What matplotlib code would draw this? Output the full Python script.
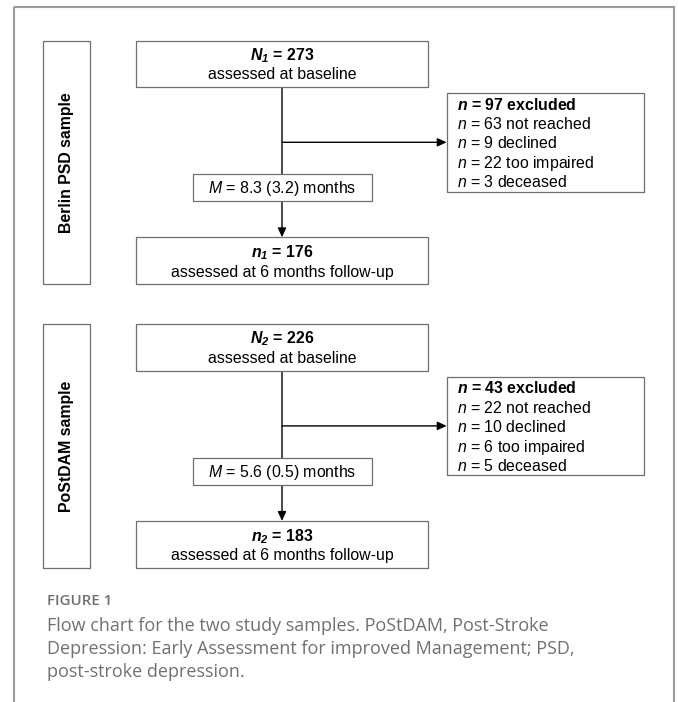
import matplotlib
matplotlib.use('Agg')
import matplotlib.pyplot as plt
from matplotlib.patches import Rectangle, FancyArrowPatch

# values
samples = ['Berlin PSD sample', 'PoStDAM sample']
baseline_n = [273, 226]
followup_n = [176, 183]
interval_mean = [8.3, 5.6]
interval_sd = [3.2, 0.5]
excl_total = [97, 43]
excl_reasons = ['not reached', 'declined', 'too impaired', 'deceased']
excl_counts = [[63, 9, 22, 3], [22, 10, 6, 5]]

caption_title = 'FIGURE 1'
caption_lines = ['Flow chart for the two study samples. PoStDAM, Post-Stroke',
                 'Depression: Early Assessment for improved Management; PSD,',
                 'post-stroke depression.']

plt.rcParams['font.family'] = ['Liberation Sans', 'DejaVu Sans']
plt.rcParams['mathtext.fontset'] = 'custom'
plt.rcParams['mathtext.rm'] = 'Liberation Sans'
plt.rcParams['mathtext.it'] = 'Liberation Sans:italic'
plt.rcParams['mathtext.bf'] = 'Liberation Sans:bold'
plt.rcParams['mathtext.bfit'] = 'Liberation Sans:italic:bold'

W, H = 678, 702
fig = plt.figure(figsize=(W / 100, H / 100), dpi=100)
ax = fig.add_axes([0, 0, 1, 1])
ax.set_xlim(0, W)
ax.set_ylim(H, 0)
ax.axis('off')

FS = 11.4
BOX_EC = '#6e6e6e'
BOX_LW = 0.9


def box(x0, y0, x1, y1, z=2):
    ax.add_patch(Rectangle((x0, y0), x1 - x0, y1 - y0, fc='white',
                           ec=BOX_EC, lw=BOX_LW, zorder=z))


def arrow(p0, p1):
    ax.add_patch(FancyArrowPatch(p0, p1, arrowstyle='-|>,head_length=0.55,head_width=0.25',
                                 mutation_scale=10, color='black', lw=1.0,
                                 shrinkA=0, shrinkB=0, zorder=1))


# outer frame
ax.add_patch(Rectangle((13.7, 6.7), 674 - 13.7, H + 10, fc='none',
                       ec='#9a9a9a', lw=1.5, zorder=0))

step = 283.6
cx = 282
for i, name in enumerate(samples):
    dy = i * step
    k = i + 1
    # side label
    box(43.3, 40.7 + dy, 90, 284 + dy)
    ax.text(66.7, 162.3 + dy, name, rotation=90, ha='center', va='center',
            fontsize=FS, fontweight='bold', zorder=3)

    # baseline box
    box(135.7, 40.7 + dy, 428.3, 87.3 + dy)
    ax.text(cx, 60 + dy, r'$\mathbfit{N_%d}$ = %d' % (k, baseline_n[i]),
            ha='center', va='baseline', fontsize=FS, fontweight='bold', zorder=3)
    ax.text(cx, 79.3 + dy, 'assessed at baseline', ha='center', va='baseline',
            fontsize=FS, zorder=3)

    # vertical arrow down to follow-up
    arrow((cx, 87.3 + dy), (cx, 237.3 + dy))
    # branch to exclusions
    arrow((cx, 142.3 + dy), (446.7, 142.3 + dy))

    # interval box
    box(193, 174 + dy, 372.3, 201 + dy)
    ax.text(cx, 193.5 + dy, r'$\mathit{M}$ = %.1f (%.1f) months'
            % (interval_mean[i], interval_sd[i]),
            ha='center', va='baseline', fontsize=FS, zorder=3)

    # follow-up box
    box(135.7, 237.3 + dy, 428.3, 284 + dy)
    ax.text(cx, 257.3 + dy, r'$\mathbfit{n_%d}$ = %d' % (k, followup_n[i]),
            ha='center', va='baseline', fontsize=FS, fontweight='bold', zorder=3)
    ax.text(cx, 276.7 + dy, 'assessed at 6 months follow-up', ha='center',
            va='baseline', fontsize=FS, zorder=3)

    # exclusion box
    box(446.7, 93.3 + dy, 644.3, 191.7 + dy)
    ax.text(456.7, 109.8 + dy, r'$\mathbfit{n}$ = %d excluded' % excl_total[i],
            ha='left', va='baseline', fontsize=FS, fontweight='bold', zorder=3)
    for j, (cnt, why) in enumerate(zip(excl_counts[i], excl_reasons)):
        ax.text(456.7, 129.1 + dy + j * 19.4, r'$\mathit{n}$ = %d %s' % (cnt, why),
                ha='left', va='baseline', fontsize=FS, zorder=3)

# caption
cap_font = ['Open Sans', 'DejaVu Sans']
ax.text(46.9, 605, caption_title, ha='left', va='baseline', fontsize=10.8,
        family=cap_font, color='#707070', fontweight='semibold')
for j, line in enumerate(caption_lines):
    ax.text(46.9, 630.7 + j * 23, line, ha='left', va='baseline', fontsize=13,
            family=cap_font, color='#707070')

fig.savefig('out.png', dpi=100)
